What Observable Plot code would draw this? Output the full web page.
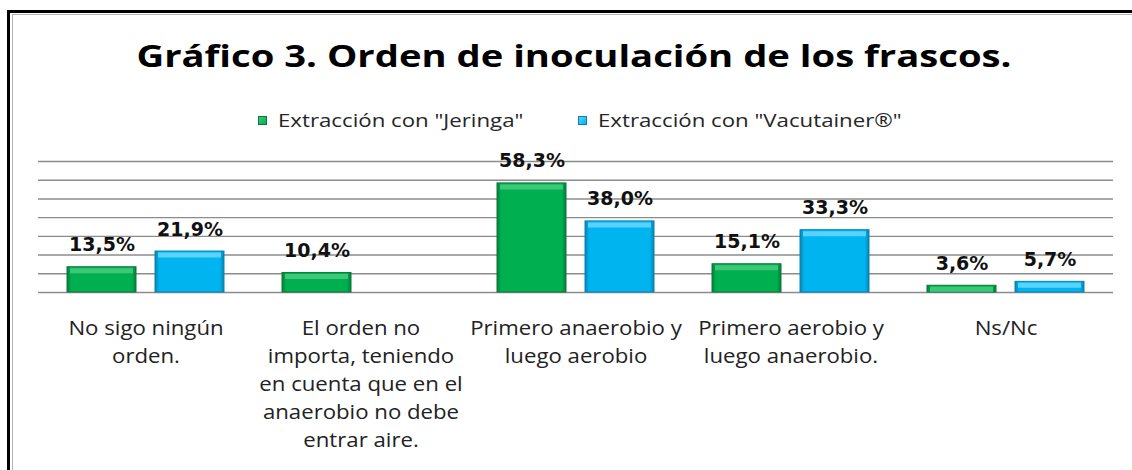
<!DOCTYPE html>
<html><head><meta charset="utf-8">
<script src="https://cdn.jsdelivr.net/npm/d3@7"></script>
<script src="https://cdn.jsdelivr.net/npm/@observablehq/plot@0.6"></script>
<style>
body{margin:0;background:#fff;width:1132px;height:470px;overflow:hidden;position:relative;font-family:"Open Sans",sans-serif;}
#frame{position:absolute;left:7px;top:10px;right:-20px;bottom:-20px;border-left:3px solid #000;border-top:3px solid #000;}
#frame2{position:absolute;left:12px;top:14px;right:-20px;bottom:-20px;border-left:1px solid #b4b4b4;border-top:1px solid #b4b4b4;}
#title{position:absolute;top:40px;left:574px;font-family:"Open Sans",sans-serif;font-weight:bold;font-size:31px;line-height:31px;color:#000;white-space:nowrap;transform-origin:0 0;}
.item{position:absolute;top:111px;display:flex;align-items:center;font-size:19px;line-height:19px;color:#262626;white-space:nowrap;}
.item span{display:inline-block;transform:scaleX(1.17);transform-origin:0 50%;}
.sw{width:7px;height:7px;margin-right:11px;border:1px solid;}
#chart{position:absolute;left:0;top:140px;}
</style></head>
<body>
<div id="frame"></div><div id="frame2"></div>
<div id="title"></div>
<div id="chart"></div>
<script>
const titleText = "Gráfico 3. Orden de inoculación de los frascos.";
const categories = [
  "No sigo ningún\norden.",
  "El orden no\nimporta, teniendo\nen cuenta que en el\nanaerobio no debe\nentrar aire.",
  "Primero anaerobio y\nluego aerobio",
  "Primero aerobio y\nluego anaerobio.",
  "Ns/Nc"
];
const series = ['Extracción con "Jeringa"', 'Extracción con "Vacutainer®"'];
const jeringa = [13.5, 10.4, 58.3, 15.1, 3.6];
const vacutainer = [21.9, null, 38.0, 33.3, 5.7];
const yTicks = [0, 10, 20, 30, 40, 50, 60, 70];
const colors = ["#00b050", "#00b4f0"];
const edgeColors = ["#0a7a38", "#0a82b0"];
const topColors = ["#3cc878", "#5ad2ff"];
const legendLeft = [258, 578];

const data = [];
categories.forEach((c, i) => {
  if (jeringa[i] != null) data.push({cat: c, series: series[0], value: jeringa[i]});
  if (vacutainer[i] != null) data.push({cat: c, series: series[1], value: vacutainer[i]});
});

// title, stretched horizontally like the reference
const tEl = document.getElementById("title");
tEl.textContent = titleText;
const tw = tEl.getBoundingClientRect().width;
const ts = 875 / tw;
tEl.style.transform = `translateX(${-tw * ts / 2}px) scaleX(${ts})`;

// legend
series.forEach((s, i) => {
  const it = document.createElement("div"); it.className = "item";
  it.style.left = legendLeft[i] + "px";
  const sw = document.createElement("div"); sw.className = "sw";
  sw.style.background = `linear-gradient(135deg, ${topColors[i]}, ${colors[i]})`;
  sw.style.borderColor = edgeColors[i];
  const tx = document.createElement("span"); tx.textContent = s;
  it.appendChild(sw); it.appendChild(tx); document.body.appendChild(it);
});

const fmt = v => v.toFixed(1).replace(".", ",") + "%";
const barMarks = series.flatMap((s, i) => [
  Plot.barY(data, {filter: d => d.series === s, fx: "cat", x: "series", y: "value",
    fill: `url(#grad${i})`, stroke: edgeColors[i], strokeWidth: 1}),
  Plot.tickY(data, {filter: d => d.series === s, fx: "cat", x: "series", y: "value",
    stroke: topColors[i], strokeWidth: 5, dy: 3.5, inset: 3})
]);

const chart = Plot.plot({
  width: 1132, height: 330,
  marginLeft: 38, marginRight: 19, marginTop: 21, marginBottom: 178,
  style: {background: "transparent"},
  fx: {domain: categories, padding: 0, axis: null},
  x: {domain: series, paddingInner: 0.22, paddingOuter: 0.32, axis: null},
  y: {domain: [0, 70], axis: null},
  marks: [
    Plot.ruleY(yTicks, {stroke: "#8c8c8c", strokeWidth: 1.4}),
    ...barMarks,
    Plot.text(data, {fx: "cat", x: "series", y: "value", text: d => fmt(d.value),
      dy: -16, lineAnchor: "bottom", fontFamily: "DejaVu Sans", fontWeight: "bold",
      fontSize: 19, fill: "#111"}),
    Plot.text(categories, {fx: d => d, text: d => d, frameAnchor: "bottom", lineAnchor: "top",
      dy: 23, lineHeight: 1.4, fontSize: 20, fontFamily: "Open Sans", fill: "#222",
      className: "catlabel"})
  ]
});
const defs = d3.select(chart).insert("defs", ":first-child");
colors.forEach((c, i) => {
  const g = defs.append("linearGradient").attr("id", "grad" + i).attr("x1", 0).attr("x2", 1).attr("y1", 0).attr("y2", 0);
  g.append("stop").attr("offset", "0%").attr("stop-color", edgeColors[i]);
  g.append("stop").attr("offset", "6%").attr("stop-color", c);
  g.append("stop").attr("offset", "94%").attr("stop-color", c);
  g.append("stop").attr("offset", "100%").attr("stop-color", edgeColors[i]);
});
// stretch category labels horizontally like the reference
d3.select(chart).selectAll(".catlabel text").each(function() {
  const t = this.getAttribute("transform") || "";
  this.setAttribute("transform", t + " scale(1.11,1)");
});
document.getElementById("chart").appendChild(chart);
</script>
</body></html>
